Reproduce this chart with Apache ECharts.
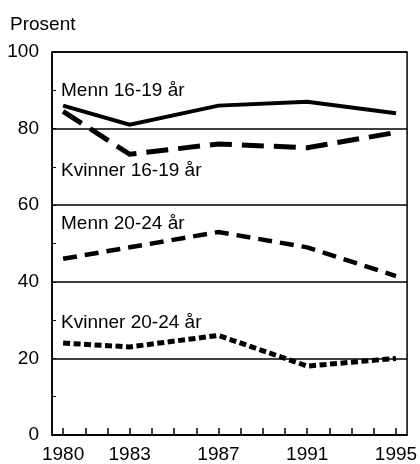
<!DOCTYPE html>
<html><head><meta charset="utf-8">
<script src="https://cdn.jsdelivr.net/npm/echarts@6/dist/echarts.min.js"></script>
<style>html,body{margin:0;padding:0;background:#fff}#c{width:420px;height:464px}</style>
</head><body><div id="c"></div>
<script>
const years = ['1980','1981','1982','1983','1984','1985','1986','1987','1988','1989','1990','1991','1992','1993','1994','1995'];
const labelYears = ['1980','1983','1987','1991','1995'];
const obsYears = ['1980','1983','1987','1991','1995'];
const menn1619 = [86, 81, 86, 87, 84];
const kvinner1619 = [84.5, 73.3, 76, 75, 79];
const menn2024 = [46, 49, 53, 49, 41.5];
const kvinner2024 = [24, 23, 26, 18, 20];
const seriesNames = ['Menn 16-19 år', 'Kvinner 16-19 år', 'Menn 20-24 år', 'Kvinner 20-24 år'];
const yTicks = [0, 20, 40, 60, 80, 100];

const FONT = '"Liberation Sans", Arial, sans-serif';
const chart = echarts.init(document.getElementById('c'));
function pairs(v){ return obsYears.map((y,i)=>[y, v[i]]); }
const styles = [
  {type:'solid', width:4},
  {type:[22,10], width:5},
  {type:[14,8], width:4.5},
  {type:[7,3.5], width:5}
];
const vals = [menn1619, kvinner1619, menn2024, kvinner2024];
chart.setOption({
  animation:false,
  title:{text:'Prosent', left:10, top:15, padding:0, textStyle:{fontFamily:FONT, fontSize:19, fontWeight:'normal', color:'#000'}},
  grid:{left:52, right:9, top:52, bottom:29, show:true, borderColor:'#000', borderWidth:1.5},
  xAxis:{type:'category', data:years, boundaryGap:true,
    axisLine:{lineStyle:{color:'#000', width:1.5}},
    axisTick:{show:true, inside:true, length:7, alignWithLabel:true, interval:0, lineStyle:{color:'#000', width:1.5}},
    axisLabel:{interval:(i,v)=>labelYears.indexOf(v)>=0, color:'#000', fontFamily:FONT, fontSize:19, margin:10},
    splitLine:{show:false}},
  yAxis:{type:'value', min:0, max:100, interval:20,
    axisLine:{show:true, lineStyle:{color:'#000', width:1.5}},
    axisTick:{show:true, inside:true, length:4, lineStyle:{color:'#000'}},
    minorTick:{show:true, splitNumber:2, length:4, lineStyle:{color:'#000', width:1}},
    axisLabel:{color:'#000', fontFamily:FONT, fontSize:19, margin:13, padding:[7,0,0,0], formatter:v=>yTicks.indexOf(v)>=0?String(v):''},
    splitLine:{show:true, lineStyle:{color:'#000', width:1.5}}},
  series: vals.map((v,i)=>({
    name:seriesNames[i], type:'line', data:pairs(v), symbol:'none', connectNulls:true,
    lineStyle:{color:'#000', width:styles[i].width, type:styles[i].type, cap:'butt', join:'miter'}
  })),
  graphic:[
    {type:'text', left:61, top:81, style:{text:seriesNames[0], font:'19px '+FONT, fill:'#000'}},
    {type:'text', left:61, top:161, style:{text:seriesNames[1], font:'19px '+FONT, fill:'#000'}},
    {type:'text', left:61, top:214, style:{text:seriesNames[2], font:'19px '+FONT, fill:'#000'}},
    {type:'text', left:61, top:313, style:{text:seriesNames[3], font:'19px '+FONT, fill:'#000'}}
  ]
});
</script></body></html>
